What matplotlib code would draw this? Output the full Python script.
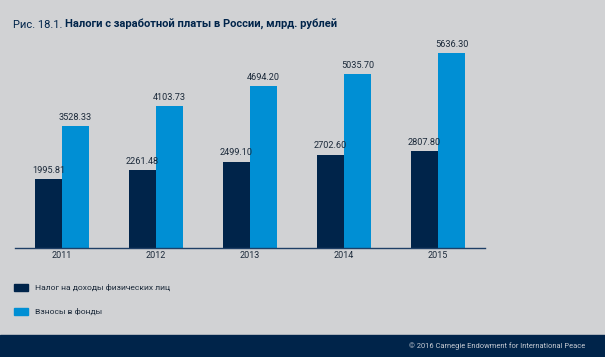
import matplotlib.pyplot as plt
from matplotlib.patches import Rectangle
import numpy as np

years = ["2011", "2012", "2013", "2014", "2015"]
ndfl = [1995.81, 2261.48, 2499.10, 2702.60, 2807.80]
funds = [3528.33, 4103.73, 4694.20, 5035.70, 5636.30]
series_names = ["Налог на доходы физических лиц", "Взносы в фонды"]

BG = "#d1d2d4"
DARK = "#00244a"
BLUE = "#008fd4"
TEXT = "#1c2a3a"

plt.rcParams["font.family"] = ["Roboto", "DejaVu Sans"]

W, H = 605, 357
fig = plt.figure(figsize=(W / 100, H / 100), dpi=100, facecolor=BG)

# axes: baseline at y=248 px, top at y=40 px, x from 15 to 485 px
ax = fig.add_axes([15 / W, (H - 248) / H, 470 / W, 208 / H])
ax.set_facecolor(BG)

px_per_unit = 0.03457
ax.set_ylim(0, 208 / px_per_unit)
ax.set_xlim(-0.5, len(years) - 0.5)

x = np.arange(len(years))
bw = 27 / 94
b1 = ax.bar(x - bw / 2, ndfl, bw, color=DARK, label=series_names[0])
b2 = ax.bar(x + bw / 2, funds, bw, color=BLUE, label=series_names[1])

for bars in (b1, b2):
    for r in bars:
        ax.annotate(f"{r.get_height():.2f}", (r.get_x() + r.get_width() / 2, r.get_height()),
                    xytext=(0, 3), textcoords="offset points", ha="center", va="bottom",
                    fontsize=6.6, color=TEXT)

for s in ["top", "right", "left"]:
    ax.spines[s].set_visible(False)
ax.spines["bottom"].set_color("#1f3f66")
ax.spines["bottom"].set_linewidth(1)
ax.set_yticks([])
ax.set_xticks(x)
ax.set_xticklabels(years, fontsize=6.5, color=TEXT)
ax.tick_params(axis="x", length=0, pad=2)

# title: regular prefix then bold part
t1 = fig.text(13 / W, 1 - 25 / H, "Рис. 18.1.", fontsize=8.0, color=DARK, va="center", ha="left")
fig.canvas.draw()
ext = t1.get_window_extent()
fig.text((ext.x1 + 3) / W, 1 - 25 / H, "Налоги с заработной платы в России, млрд. рублей",
         fontsize=8.0, color=DARK, va="center", ha="left", fontweight="bold")

# legend
for i, (name, col) in enumerate(zip(series_names, [DARK, BLUE])):
    yc = 287 + i * 24
    fig.patches.append(Rectangle((14 / W, 1 - (yc + 3.5) / H), 14 / W, 7 / H,
                                 transform=fig.transFigure, color=col))
    fig.text(35 / W, 1 - yc / H, name, fontsize=6.1, color=TEXT, va="center", ha="left")

# footer
fig.patches.append(Rectangle((0, 0), 1, 22 / H, transform=fig.transFigure, color=DARK))
fig.text(585 / W, 1 - 346 / H, "© 2016 Carnegie Endowment for International Peace",
         fontsize=5.4, color="#c8ccd4", va="center", ha="right")

fig.savefig("out.png", dpi=100, facecolor=BG)
